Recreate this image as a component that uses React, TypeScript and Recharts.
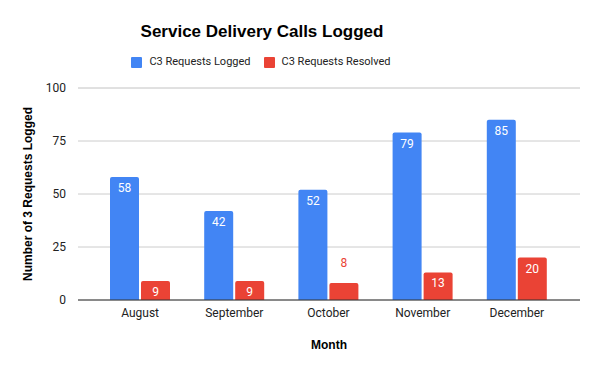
import React from "react";
import { BarChart, Bar, XAxis, YAxis, CartesianGrid, LabelList } from "recharts";

const months = ["August", "September", "October", "November", "December"];
const logged = [58, 42, 52, 79, 85];
const resolved = [9, 9, 8, 13, 20];
const majorTicks = [0, 25, 50, 75, 100];
const minorTicks = [12.5, 37.5, 62.5, 87.5];

const BLUE = "#4285F4";
const RED = "#EA4335";

const data = months.map((m, i) => ({ month: m, logged: logged[i], resolved: resolved[i] }));

const makeLabel = (outsideColor: string) => (props: any) => {
  const { x, y, width, height, value } = props;
  const cx = Number(x) + Number(width) / 2;
  if (Number(height) < 18) {
    return (
      <text x={cx} y={Number(y) - 20} textAnchor="middle" dominantBaseline="central" fill={outsideColor} fontSize={12} fontFamily="Roboto, Arial, sans-serif">
        {value}
      </text>
    );
  }
  return (
    <text x={cx} y={Number(y) + 11} textAnchor="middle" dominantBaseline="central" fill="#ffffff" fontSize={12} fontFamily="Roboto, Arial, sans-serif">
      {value}
    </text>
  );
};

export default function App() {
  return (
    <div style={{ position: "absolute", left: 0, top: 0, width: 600, height: 371, background: "#fff", fontFamily: "Roboto, Arial, sans-serif" }}>
      <div style={{ position: "absolute", left: 0, width: 524, top: 20, textAlign: "center", fontFamily: "'Liberation Sans', Arial, sans-serif", fontWeight: "bold", fontSize: 17, color: "#000", lineHeight: "24px" }}>
        Service Delivery Calls Logged
      </div>
      <div style={{ position: "absolute", left: 0, width: 522, top: 54, display: "flex", justifyContent: "center", alignItems: "center", fontSize: 11, color: "#222", lineHeight: "16px" }}>
        <span style={{ display: "inline-block", width: 11, height: 11, background: BLUE, borderRadius: 1, marginRight: 7 }} />
        <span style={{ marginRight: 13 }}>C3 Requests Logged</span>
        <span style={{ display: "inline-block", width: 11, height: 11, background: RED, borderRadius: 1, marginRight: 7 }} />
        <span>C3 Requests Resolved</span>
      </div>
      <BarChart width={600} height={371} data={data} margin={{ top: 88, right: 20, bottom: 0, left: 0 }} barSize={29} barGap={2}>
        <CartesianGrid vertical={false} stroke="#ebebeb" yAxisId="minor" />
        <CartesianGrid vertical={false} stroke="#cccccc" />
        <XAxis
          dataKey="month"
          height={71}
          tickLine={false}
          axisLine={{ stroke: "#333333" }}
          padding={{ left: 15, right: 16 }}
          tick={{ fontSize: 12, fill: "#222", fontFamily: "Roboto, Arial, sans-serif" }}
          tickMargin={2}
          label={{ value: "Month", position: "insideBottom", offset: 22, fontSize: 12, fontWeight: "bold", fill: "#000", fontFamily: "'Liberation Sans', Arial, sans-serif" }}
        />
        <YAxis
          width={78}
          domain={[0, 100]}
          ticks={majorTicks}
          tickLine={false}
          axisLine={false}
          tickMargin={6}
          tick={{ fontSize: 12, fill: "#222", fontFamily: "Roboto, Arial, sans-serif" }}
          label={{ value: "Number of 3 Requests Logged", angle: -90, position: "insideLeft", offset: 28, style: { textAnchor: "middle" }, fontSize: 12, fontWeight: "bold", fill: "#000", fontFamily: "'Liberation Sans', Arial, sans-serif" }}
        />
        <YAxis yAxisId="minor" hide domain={[0, 100]} ticks={minorTicks} width={0} />
        <Bar dataKey="logged" fill={BLUE} radius={[2, 2, 0, 0]} isAnimationActive={false}>
          <LabelList dataKey="logged" content={makeLabel(BLUE)} />
        </Bar>
        <Bar dataKey="resolved" fill={RED} radius={[2, 2, 0, 0]} isAnimationActive={false}>
          <LabelList dataKey="resolved" content={makeLabel(RED)} />
        </Bar>
      </BarChart>
    </div>
  );
}
